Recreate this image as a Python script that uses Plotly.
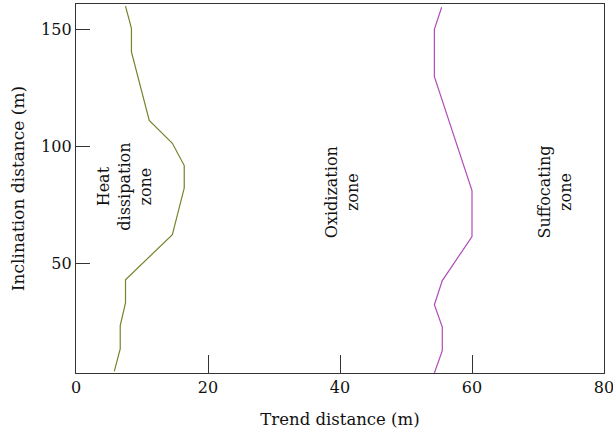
import plotly.graph_objects as go

# Heat dissipation / oxidization boundary (green)
green_x = [5.8, 6.7, 6.7, 7.5, 7.5, 14.6, 16.4, 16.4, 14.6, 11.1, 8.4, 8.4, 7.5]
green_y = [4.1, 13.7, 23.6, 33.3, 43.2, 62.4, 82.3, 91.9, 101.4, 111.1, 140.4, 150.4, 159.9]

# Oxidization / suffocating boundary (purple)
purple_x = [54.3, 55.5, 55.5, 54.3, 55.5, 60.0, 60.0, 54.3, 54.3, 55.4]
purple_y = [3.4, 12.9, 23.0, 32.5, 42.8, 61.6, 81.2, 129.8, 150.0, 159.4]

zone_labels = ["Heat<br>dissipation<br>zone", "Oxidization<br>zone", "Suffocating<br>zone"]
zone_x = [7.4, 40.3, 72.6]
zone_y = [82.8, 80.5, 80.5]

x_ticks = [0, 20, 40, 60, 80]
y_ticks = [50, 100, 150]

FONT = "DejaVu Serif"

fig = go.Figure()
fig.add_trace(go.Scatter(x=green_x, y=green_y, mode="lines",
                         line=dict(color="#74842a", width=1.2), showlegend=False))
fig.add_trace(go.Scatter(x=purple_x, y=purple_y, mode="lines",
                         line=dict(color="#b04cba", width=1.2), showlegend=False))

for t, x, y in zip(zone_labels, zone_x, zone_y):
    fig.add_annotation(x=x, y=y, text=t, showarrow=False, textangle=-90,
                       font=dict(family=FONT, size=16, color="#111"))

fig.update_layout(
    width=613, height=432,
    margin=dict(l=76, r=9, t=4, b=59),
    plot_bgcolor="white", paper_bgcolor="white",
    font=dict(family=FONT, size=16, color="#111"),
)
fig.update_xaxes(range=[0, 80], tickvals=x_ticks, ticks="inside", ticklen=18,
                 tickcolor="#333", tickwidth=1.3,
                 showline=True, linecolor="#333", linewidth=1.3, mirror=True,
                 showgrid=False, zeroline=False, ticklabeloverflow="allow",
                 automargin=False,
                 tickfont=dict(family=FONT, size=16),
                 title=dict(text="Trend distance (m)", font=dict(family=FONT, size=16.5), standoff=17))
fig.update_yaxes(range=[3.4, 160.8], tickvals=y_ticks, ticks="inside", ticklen=14,
                 tickcolor="#333", tickwidth=1.3,
                 showline=True, linecolor="#333", linewidth=1.3, mirror=True,
                 showgrid=False, zeroline=False, automargin=False,
                 tickfont=dict(family=FONT, size=16),
                 title=dict(text="Inclination distance (m)", font=dict(family=FONT, size=17), standoff=12))

fig.write_html("out.html")
